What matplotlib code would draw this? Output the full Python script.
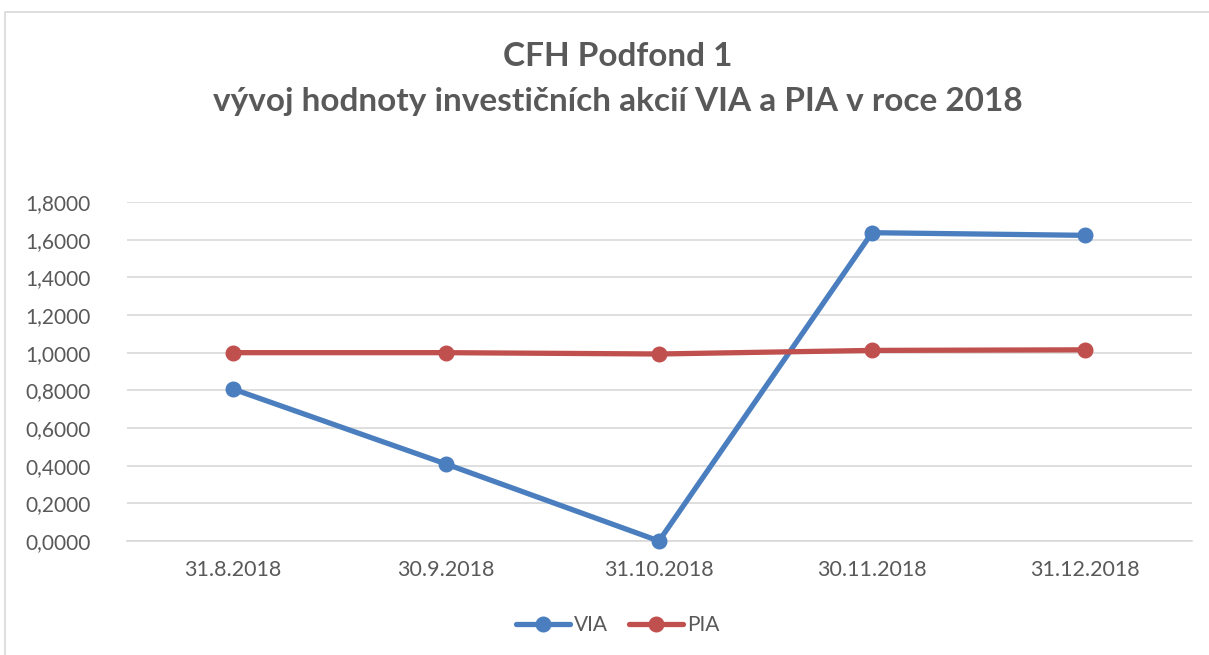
import matplotlib
matplotlib.use("Agg")
import matplotlib.pyplot as plt
from matplotlib.patches import Rectangle

categories = ["31.8.2018", "30.9.2018", "31.10.2018", "30.11.2018", "31.12.2018"]
via = [0.807, 0.409, 0.0, 1.637, 1.623]
pia = [1.000, 1.000, 0.993, 1.012, 1.015]
yticks = [0.0, 0.2, 0.4, 0.6, 0.8, 1.0, 1.2, 1.4, 1.6, 1.8]

plt.rcParams['font.family'] = ['Lato', 'DejaVu Sans']
grey = '#595959'

W, H = 1209, 655
fig = plt.figure(figsize=(W / 100, H / 100), dpi=100)
fig.patch.set_facecolor('white')

# chart border
fig.patches.append(Rectangle((5 / W, -0.1), 1.2, (H - 12) / H + 0.1, transform=fig.transFigure,
                             fill=False, edgecolor='#D9D9D9', linewidth=1.2))

left, right = 126.5 / W, 1191.5 / W
bottom, top = 1 - 541 / H, 1 - 202 / H
ax = fig.add_axes([left, bottom, right - left, top - bottom])

x = list(range(len(categories)))
ax.plot(x, via, color='#4A7EBF', linewidth=3.8, marker='o', markersize=10.5, label='VIA',
        solid_capstyle='round', zorder=3)
ax.plot(x, pia, color='#C0504D', linewidth=3.8, marker='o', markersize=10.5, label='PIA',
        solid_capstyle='round', zorder=3)

ax.set_xlim(-0.5, len(categories) - 0.5)
ax.set_ylim(0, 1.8)
ax.set_yticks(yticks)
ax.set_yticklabels([f"{v:.4f}".replace('.', ',') for v in yticks])
ax.set_xticks(x)
ax.set_xticklabels(categories)
ax.tick_params(axis='y', length=0, colors=grey, labelsize=15, pad=26)
ax.tick_params(axis='x', length=0, colors=grey, labelsize=15.5, pad=14)
ax.grid(axis='y', color='#D9D9D9', linewidth=1.2)
ax.set_axisbelow(True)
for s in ['top', 'right', 'left']:
    ax.spines[s].set_visible(False)
ax.spines['bottom'].set_color('#D9D9D9')
ax.spines['bottom'].set_linewidth(1.2)
for ln in ax.lines:
    ln.set_clip_on(False)

fig.text(0.511, 1 - 57 / H, "CFH Podfond 1", ha='center', va='center', fontsize=24,
         fontweight='bold', color=grey)
fig.text(0.511, 1 - 101 / H, "vývoj hodnoty investičních akcií VIA a PIA v roce 2018",
         ha='center', va='center', fontsize=24, fontweight='bold', color=grey)

leg = fig.legend(loc='center', bbox_to_anchor=(0.511, 1 - 625 / H), ncol=2, frameon=False,
                 fontsize=15, labelcolor=grey, handlelength=2.6, columnspacing=1.0,
                 handletextpad=0.2)

fig.savefig('out.png', dpi=100, facecolor='white')
